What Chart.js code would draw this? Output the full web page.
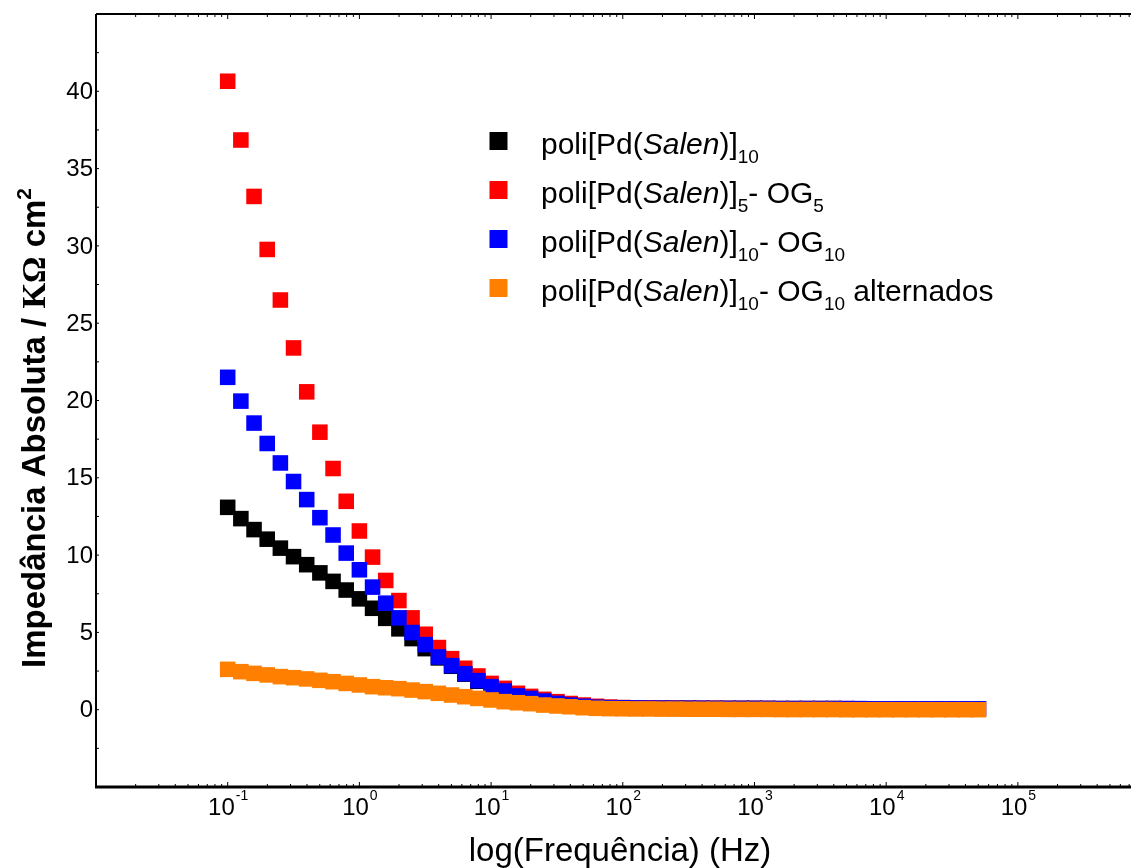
<!DOCTYPE html>
<html>
<head>
<meta charset="utf-8">
<script src="https://cdn.jsdelivr.net/npm/chart.js@4.4.1/dist/chart.umd.min.js"></script>
<style>
  html, body { margin: 0; padding: 0; background: #fff; }
  #wrap { width: 1131px; height: 868px; }
</style>
</head>
<body>
<div id="wrap"><canvas id="impedanceChart" width="1131" height="868"></canvas></div>
<script>
// frequencies (Hz), 10 points per decade
const frequencies = [
  0.1, 0.1259, 0.1585, 0.1995, 0.2512, 0.3162, 0.3981, 0.5012, 0.631, 0.7943,
  1, 1.259, 1.585, 1.995, 2.512, 3.162, 3.981, 5.012, 6.31, 7.943,
  10, 12.59, 15.85, 19.95, 25.12, 31.62, 39.81, 50.12, 63.1, 79.43,
  100, 125.9, 158.5, 199.5, 251.2, 316.2, 398.1, 501.2, 631, 794.3,
  1000, 1259, 1585, 1995, 2512, 3162, 3981, 5012, 6310, 7943,
  10000, 12590, 15850, 19950, 25120, 31620, 39810, 50120
];

// |Z| in kOhm cm2
const poliPd10 = [
  13.09, 12.36, 11.65, 11.03, 10.45, 9.90, 9.38, 8.85, 8.30, 7.74,
  7.17, 6.56, 5.91, 5.23, 4.60, 3.95, 3.35, 2.81, 2.30, 1.84,
  1.45, 1.13, 0.87, 0.68, 0.52, 0.38, 0.28, 0.20, 0.15, 0.12,
  0.11, 0.10, 0.10, 0.09, 0.09, 0.09, 0.08, 0.08, 0.08, 0.08,
  0.08, 0.07, 0.07, 0.07, 0.07, 0.07, 0.07, 0.06, 0.06, 0.06,
  0.06, 0.06, 0.06, 0.06, 0.06, 0.06, 0.06, 0.06
];
const poliPd5OG5 = [
  40.65, 36.85, 33.20, 29.77, 26.50, 23.40, 20.56, 17.95, 15.60, 13.48,
  11.56, 9.87, 8.36, 7.06, 5.94, 4.88, 4.02, 3.30, 2.68, 2.18,
  1.70, 1.38, 1.06, 0.86, 0.67, 0.52, 0.40, 0.30, 0.22, 0.17,
  0.14, 0.12, 0.11, 0.10, 0.10, 0.09, 0.09, 0.09, 0.08, 0.08,
  0.08, 0.08, 0.07, 0.07, 0.07, 0.07, 0.07, 0.07, 0.06, 0.06,
  0.06, 0.06, 0.06, 0.06, 0.06, 0.06, 0.06, 0.06
];
const poliPd10OG10 = [
  21.50, 19.96, 18.54, 17.22, 15.96, 14.76, 13.59, 12.42, 11.30, 10.13,
  9.05, 7.93, 6.89, 5.94, 4.99, 4.21, 3.41, 2.85, 2.33, 1.88,
  1.49, 1.21, 0.89, 0.73, 0.56, 0.41, 0.30, 0.22, 0.16, 0.13,
  0.12, 0.11, 0.10, 0.10, 0.09, 0.09, 0.09, 0.08, 0.08, 0.08,
  0.08, 0.08, 0.07, 0.07, 0.07, 0.07, 0.07, 0.07, 0.07, 0.06,
  0.06, 0.06, 0.06, 0.06, 0.06, 0.06, 0.06, 0.06
];
const poliPd10OG10Alt = [
  2.61, 2.46, 2.35, 2.25, 2.14, 2.07, 1.99, 1.90, 1.81, 1.70,
  1.60, 1.49, 1.42, 1.36, 1.27, 1.17, 1.06, 0.95, 0.84, 0.73,
  0.63, 0.52, 0.45, 0.39, 0.30, 0.24, 0.19, 0.13, 0.09, 0.07,
  0.06, 0.05, 0.05, 0.04, 0.04, 0.03, 0.03, 0.03, 0.02, 0.02,
  0.02, 0.02, 0.01, 0.01, 0.01, 0.01, 0.01, 0.00, 0.00, 0.00,
  0.00, 0.00, 0.00, 0.00, 0.00, 0.00, 0.00, 0.00
];

const yTicks = [0, 5, 10, 15, 20, 25, 30, 35, 40];
const xTickExponents = [-1, 0, 1, 2, 3, 4, 5];

const seriesColors = ['#000000', '#ff0000', '#0000ff', '#ff8000'];

const legendItems = [
  [{ t: 'poli[Pd(' }, { t: 'Salen', italic: true }, { t: ')]' }, { t: '10', sub: true }],
  [{ t: 'poli[Pd(' }, { t: 'Salen', italic: true }, { t: ')]' }, { t: '5', sub: true }, { t: '- OG' }, { t: '5', sub: true }],
  [{ t: 'poli[Pd(' }, { t: 'Salen', italic: true }, { t: ')]' }, { t: '10', sub: true }, { t: '- OG' }, { t: '10', sub: true }],
  [{ t: 'poli[Pd(' }, { t: 'Salen', italic: true }, { t: ')]' }, { t: '10', sub: true }, { t: '- OG' }, { t: '10', sub: true }, { t: ' alternados' }]
];

const SANS = '"Liberation Sans", Arial, sans-serif';

function toPoints(values) {
  return values.map((v, i) => ({ x: frequencies[i], y: v }));
}

function drawRich(ctx, parts, x, y, size, subSize) {
  parts.forEach(p => {
    const s = p.sub ? subSize : size;
    ctx.font = (p.italic ? 'italic ' : '') + s + 'px ' + SANS;
    const dy = p.sub ? 9 : 0;
    ctx.fillText(p.t, x, y + dy);
    x += ctx.measureText(p.t).width;
  });
}

// frame, ticks, labels, titles and legend
const decorPlugin = {
  id: 'decor',
  afterDraw(chart) {
    const ctx = chart.ctx;
    const area = chart.chartArea;
    const xs = chart.scales.x;
    const ys = chart.scales.y;
    ctx.save();
    ctx.fillStyle = '#000';
    ctx.strokeStyle = '#000';

    // axis lines
    ctx.lineWidth = 2;
    ctx.beginPath();
    ctx.moveTo(area.left, area.top);
    ctx.lineTo(area.right, area.top);
    ctx.moveTo(area.left, area.top);
    ctx.lineTo(area.left, area.bottom);
    ctx.stroke();
    ctx.lineWidth = 3;
    ctx.beginPath();
    ctx.moveTo(area.left - 1, area.bottom);
    ctx.lineTo(area.right, area.bottom);
    ctx.stroke();

    // x ticks (log, inside)
    ctx.lineWidth = 1;
    ctx.beginPath();
    for (let e = -2; e <= 5; e++) {
      for (let m = 1; m <= 9; m++) {
        const px = xs.getPixelForValue(m * Math.pow(10, e));
        if (px <= area.left + 1 || px >= area.right) continue;
        const len = m === 1 ? 5 : 3;
        ctx.moveTo(px, area.bottom);
        ctx.lineTo(px, area.bottom - len);
        ctx.moveTo(px, area.top);
        ctx.lineTo(px, area.top + len);
      }
    }
    // y ticks every 2.5
    for (let v = -2.5; v < 45; v += 2.5) {
      const py = ys.getPixelForValue(v);
      ctx.moveTo(area.left, py);
      ctx.lineTo(area.left + 3, py);
    }
    ctx.stroke();

    // y tick labels
    ctx.font = '24px ' + SANS;
    ctx.textAlign = 'right';
    ctx.textBaseline = 'middle';
    yTicks.forEach(v => {
      ctx.fillText(String(v), area.left - 3, ys.getPixelForValue(v) + 1);
    });

    // x tick labels 10^n
    ctx.textAlign = 'left';
    ctx.textBaseline = 'alphabetic';
    xTickExponents.forEach(e => {
      const px = xs.getPixelForValue(Math.pow(10, e));
      ctx.font = '24px ' + SANS;
      const wb = ctx.measureText('10').width;
      ctx.font = '14px ' + SANS;
      const sup = e < 0 ? '-' + (-e) : String(e);
      const we = ctx.measureText(sup).width;
      const x0 = px - (wb + we) / 2;
      ctx.font = '24px ' + SANS;
      ctx.fillText('10', x0, 815);
      ctx.font = '14px ' + SANS;
      ctx.fillText(sup, x0 + wb + 1, 800);
    });

    // x title
    ctx.font = '33px ' + SANS;
    ctx.textAlign = 'center';
    ctx.fillText('log(Frequência) (Hz)', 620, 861);

    // y title
    ctx.save();
    ctx.translate(45, 428);
    ctx.rotate(-Math.PI / 2);
    ctx.textAlign = 'left';
    const parts = [
      { t: 'Impedância Absoluta / ', f: 'bold 33px ' + SANS, dy: 0 },
      { t: 'KΩ', f: 'bold 33px "Liberation Serif", "Times New Roman", serif', dy: 0 },
      { t: ' cm', f: 'bold 33px ' + SANS, dy: 0 },
      { t: '2', f: 'bold 21px ' + SANS, dy: -14 }
    ];
    let total = 0;
    parts.forEach(p => { ctx.font = p.f; total += ctx.measureText(p.t).width; });
    let tx = -total / 2;
    parts.forEach(p => {
      ctx.font = p.f;
      ctx.fillText(p.t, tx, p.dy);
      tx += ctx.measureText(p.t).width;
    });
    ctx.restore();

    // legend
    ctx.textAlign = 'left';
    ctx.textBaseline = 'alphabetic';
    legendItems.forEach((parts, i) => {
      const cy = 141 + i * 49;
      ctx.fillStyle = seriesColors[i];
      ctx.fillRect(489.5, cy - 9, 18, 18);
      ctx.fillStyle = '#000';
      drawRich(ctx, parts, 541, cy + 13, 30, 19);
    });

    ctx.restore();
  }
};

const ctx = document.getElementById('impedanceChart').getContext('2d');

const seriesValues = [poliPd10, poliPd5OG5, poliPd10OG10, poliPd10OG10Alt];
const seriesOrder = [3, 2, 1, 0]; // orange on top, black at the bottom

const chart = new Chart(ctx, {
  type: 'scatter',
  data: {
    datasets: seriesValues.map((vals, i) => ({
      label: 'serie' + i,
      data: toPoints(vals),
      pointStyle: 'rect',
      pointRadius: 11,
      pointHoverRadius: 11,
      pointBorderWidth: 0,
      backgroundColor: seriesColors[i],
      borderColor: seriesColors[i],
      order: seriesOrder[i],
      showLine: false
    }))
  },
  options: {
    responsive: false,
    animation: false,
    devicePixelRatio: 1,
    layout: { autoPadding: false, padding: { left: 96, right: 0, top: 14, bottom: 81 } },
    plugins: {
      legend: { display: false },
      tooltip: { enabled: false }
    },
    scales: {
      x: { type: 'logarithmic', min: 0.01, max: 722800, display: false },
      y: { type: 'linear', min: -5, max: 45, display: false }
    }
  },
  plugins: [decorPlugin]
});
</script>
</body>
</html>
